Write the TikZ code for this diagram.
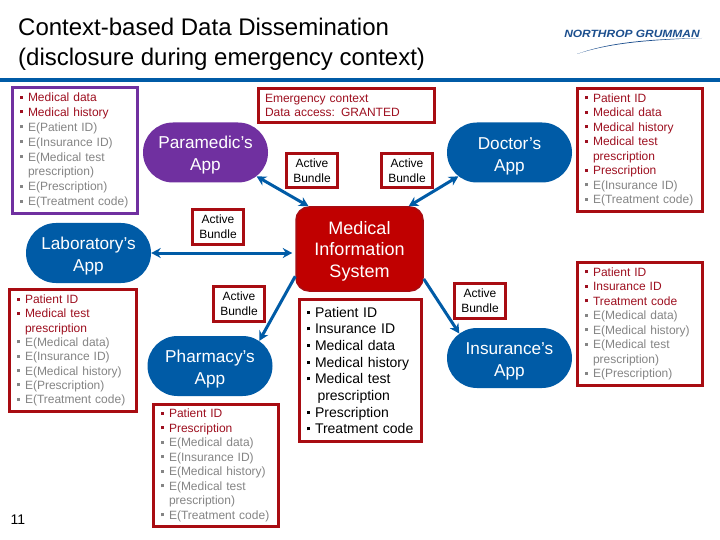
\documentclass[tikz,border=0pt]{standalone}
\usepackage{fontspec}
\usepackage{graphicx}
\setmainfont{Liberation Sans}
\usetikzlibrary{arrows.meta,shapes.misc}
\definecolor{nblue}{HTML}{005BA6}
\definecolor{nred}{HTML}{C00000}
\definecolor{nborder}{HTML}{A80C12}
\definecolor{ntext}{HTML}{9E1020}
\definecolor{ngray}{HTML}{858585}
\definecolor{npurple}{HTML}{7030A0}
\definecolor{nlogo}{HTML}{1C4F8E}
\newcommand{\LR}[1]{\textcolor{ntext}{\makebox[8pt][l]{\rule[3pt]{3pt}{3pt}}#1}}
\newcommand{\LG}[1]{\textcolor{ngray}{\makebox[8pt][l]{\rule[3pt]{3pt}{3pt}}#1}}
\newcommand{\LB}[1]{\textcolor{black}{\makebox[8.5pt][l]{\rule[3.5pt]{3pt}{3pt}}#1}}
\newcommand{\CR}[1]{\textcolor{ntext}{\hspace*{8pt}#1}}
\newcommand{\CG}[1]{\textcolor{ngray}{\hspace*{8pt}#1}}
\newcommand{\ST}[1]{\rule{0pt}{#1pt}}
\tikzset{
  appnode/.style={rounded rectangle, fill=nblue, text=white, minimum width=125pt, minimum height=60pt, inner sep=0pt, align=center, font=\fontsize{17.2}{22}\selectfont},
  listbox/.style={draw=nborder, line width=3pt, fill=white, anchor=north west, align=left, inner xsep=7.5pt, inner ysep=0pt, font=\fontsize{12}{14.5}\selectfont},
  bundle/.style={draw=nborder, line width=3pt, fill=white, anchor=north west, align=center, inner sep=0pt, minimum width=51pt, minimum height=34.5pt, font=\fontsize{12}{14.5}\selectfont},
  link/.style={draw=nblue, line width=3pt, -{Stealth[length=9.5pt,width=10pt]}},
  linkboth/.style={draw=nblue, line width=3pt, {Stealth[length=9.5pt,width=10pt]}-{Stealth[length=9.5pt,width=10pt]}}
}
\begin{document}
\begin{tikzpicture}[x=1pt,y=-1pt]
\useasboundingbox (0,0) rectangle (720,540);
\fill[white] (0,0) rectangle (720,540);
% title
\node[anchor=north west, inner sep=0pt, align=left, font=\fontsize{24}{30}\selectfont] (title) at (18,18) {Context-based Data Dissemination\\(disclosure during emergency context)};
\fill[nblue] (0,78) rectangle (720,82);
% logo
\node[inner sep=0pt, text=nlogo, font=\fontsize{10.5}{12}\selectfont\bfseries\itshape] (logo) at (632,33.5) {\scalebox{1.14}[1]{NORTHROP GRUMMAN}};
\fill[nlogo] (577,54) .. controls (610,42) and (650,39) .. (702,38) .. controls (650,40) and (610,43) .. (577,54) -- cycle;
% apps
\node[appnode, fill=npurple] (para) at (205.5,152.5) {\ST{18.4}Paramedic’s\\App};
\node[appnode] (lab) at (88.5,253) {\ST{18.4}Laboratory’s\\App};
\node[appnode] (pharm) at (210,366) {\ST{18.4}Pharmacy’s\\App};
\node[appnode] (doc) at (509.5,152.5) {\ST{19}Doctor’s\\App};
\node[appnode] (ins) at (509.5,358) {\ST{18.4}Insurance’s\\App};
\node[draw=nborder, line width=1.5pt, fill=nred, rounded corners=13pt, text=white, minimum width=127pt, minimum height=84pt, inner sep=0pt, align=center, font=\fontsize{18}{21.5}\selectfont] (mis) at (359.5,249) {\ST{17}Medical\\Information\\System};
% connectors
\draw[linkboth] (para.-25) -- (mis.140);
\draw[linkboth] (doc.205) -- (mis.41);
\draw[linkboth, shorten >=3pt] (lab.east) -- (lab.east -| mis.west);
\draw[link] (mis.203.5) -- (pharm.27.5);
\draw[link] (mis.-25) -- (ins.154);
% emergency
\node[draw=nborder, line width=3pt, fill=white, anchor=north west, align=left, text=ntext, inner xsep=6.5pt, inner ysep=0pt, minimum width=176pt, minimum height=34pt, text width=163pt, font=\fontsize{12}{14.5}\selectfont] (emer) at (257,87) {Emergency context\\Data access: GRANTED};
% bundles
\node[bundle] (ab1) at (285,152) {Active\\Bundle};
\node[bundle] (ab2) at (380,152) {Active\\Bundle};
\node[bundle] (ab3) at (191,208) {Active\\Bundle};
\node[bundle] (ab4) at (212,285) {Active\\Bundle};
\node[bundle] (ab5) at (453,282) {Active\\Bundle};
% lists
\node[listbox, draw=npurple, minimum width=125pt, minimum height=126pt, text width=110pt, font=\fontsize{12}{14.85}\selectfont] (lpara) at (11,86) {%
\LR{Medical data}\\ \LR{Medical history}\\ \LG{E(Patient ID)}\\ \LG{E(Insurance ID)}\\ \LG{E(Medical test}\\ \CG{prescription)}\\ \LG{E(Prescription)}\\ \LG{E(Treatment code)}};
\node[listbox, minimum width=127pt, minimum height=122pt, text width=112pt, font=\fontsize{12}{14.3}\selectfont] (llab) at (8,288) {%
\LR{Patient ID}\\ \LR{Medical test}\\ \CR{prescription}\\ \LG{E(Medical data)}\\ \LG{E(Insurance ID)}\\ \LG{E(Medical history)}\\ \LG{E(Prescription)}\\ \LG{E(Treatment code)}};
\node[listbox, minimum width=125pt, minimum height=122pt, text width=110pt] (lpharm) at (152,403) {%
\LR{Patient ID}\\ \LR{Prescription}\\ \LG{E(Medical data)}\\ \LG{E(Insurance ID)}\\ \LG{E(Medical history)}\\ \LG{E(Medical test}\\ \CG{prescription)}\\ \LG{E(Treatment code)}};
\node[listbox, minimum width=122pt, minimum height=142pt, text width=108pt, inner xsep=7pt, font=\fontsize{14}{16.7}\selectfont] (lmis) at (298,298) {%
\LB{Patient ID}\\ \LB{Insurance ID}\\ \LB{Medical data}\\ \LB{Medical history}\\ \LB{Medical test}\\ \hspace*{11pt}prescription\\ \LB{Prescription}\\ \LB{Treatment code}};
\node[listbox, minimum width=125pt, minimum height=123pt, text width=110pt] (ldoc) at (576,87) {%
\LR{Patient ID}\\ \LR{Medical data}\\ \LR{Medical history}\\ \LR{Medical test}\\ \CR{prescription}\\ \LR{Prescription}\\ \LG{E(Insurance ID)}\\ \LG{E(Treatment code)}};
\node[listbox, minimum width=125pt, minimum height=123pt, text width=110pt] (lins) at (576,261) {%
\LR{Patient ID}\\ \LR{Insurance ID}\\ \LR{Treatment code}\\ \LG{E(Medical data)}\\ \LG{E(Medical history)}\\ \LG{E(Medical test}\\ \CG{prescription)}\\ \LG{E(Prescription)}};
\node[inner sep=0pt, font=\fontsize{14}{16}\selectfont] (num) at (18,520) {11};
\end{tikzpicture}
\end{document}
